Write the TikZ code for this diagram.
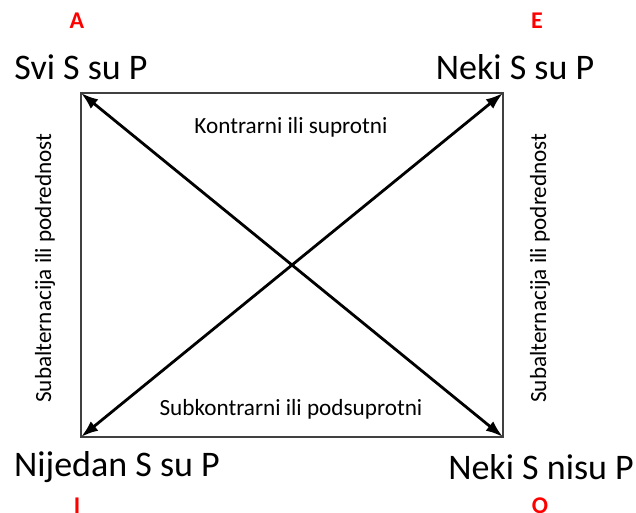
\documentclass[tikz,border=0pt]{standalone}
\usepackage{fontspec}
\setmainfont{Carlito}
\usetikzlibrary{arrows.meta}
\begin{document}
\begin{tikzpicture}[x=0.75pt,y=-0.75pt,
  big/.style={font=\fontsize{27}{30}\selectfont, inner sep=0pt},
  letter/.style={font=\fontsize{18}{20}\selectfont\bfseries, text=red, inner sep=0pt},
  mid/.style={font=\fontsize{17.4}{20}\selectfont, inner sep=0pt},
  diag/.style={line width=2.1pt, {Latex[length=13pt,width=9pt]}-{Latex[length=13pt,width=9pt]}},
  frame/.style={draw=black!75, line width=0.8pt}]
\useasboundingbox (0,0) rectangle (636,512);
\coordinate (tl) at (81,93);
\coordinate (tr) at (503,93);
\coordinate (bl) at (81,437);
\coordinate (br) at (503,437);
\draw[frame] (tl) rectangle (br);
\draw[diag] (tl) -- (br);
\draw[diag] (tr) -- (bl);
\node[letter] (la) at (77,21) {A};
\node[letter] (le) at (537,21) {E};
\node[letter] (li) at (77,506) {I};
\node[letter] (lo) at (540,506) {O};
\node[big] (a) at (81,67) {Svi S su P};
\node[big] (e) at (515,67) {Neki S su P};
\node[big] (i) at (117,467) {Nijedan S su P};
\node[big] (o) at (541,467) {Neki S nisu P};
\node[mid] (k) at (291,127) {Kontrarni ili suprotni};
\node[mid] (sk) at (291,409) {Subkontrarni ili podsuprotni};
\node[mid, rotate=90] (sl) at (45,268) {Subalternacija ili podrednost};
\node[mid, rotate=90] (sr) at (540,268) {Subalternacija ili podrednost};
\end{tikzpicture}
\end{document}
